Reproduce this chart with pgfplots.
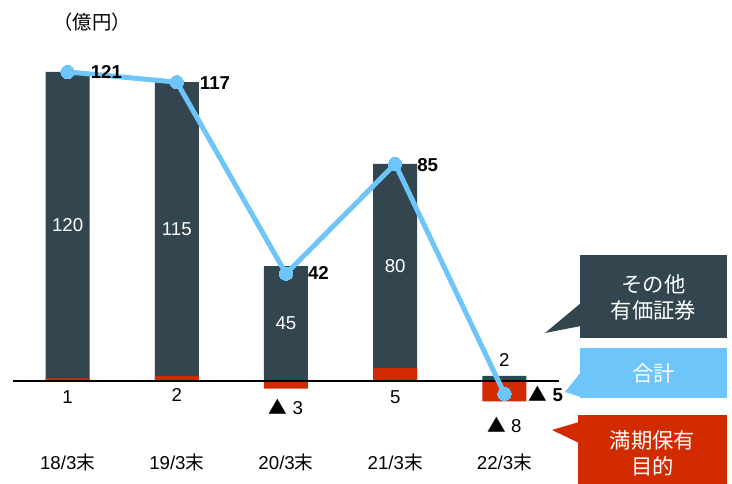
\documentclass[border=0pt]{standalone}
\usepackage{pgfplots}
\pgfplotsset{compat=1.18}
\usepackage{pgfplotstable}
\usepackage{fontspec}
\setmainfont{Liberation Sans}
\newfontfamily\cjk{Noto Sans CJK JP}
\definecolor{dark}{RGB}{51,70,80}
\definecolor{lblue}{RGB}{110,197,250}
\definecolor{red2}{RGB}{210,43,0}
\newcommand{\tri}{{\cjk ▲}}
\pgfplotstableread{
x red dark total
0 1 120 121
1 2 115 117
2 -3 45 42
3 5 80 85
4 -8 2 -5
}\data
\begin{document}
\begin{tikzpicture}[x=0.75pt,y=0.75pt]
\tikzset{lab/.style={font=\fontsize{14}{16}\selectfont, inner sep=0pt},
         blab/.style={font=\fontsize{14}{16}\selectfont\bfseries, inner sep=0pt, anchor=west},
         call/.style={font=\cjk\fontsize{16}{19}\selectfont, text=white, align=center, inner sep=0pt}}
\useasboundingbox (0,0) rectangle (732,484);
\begin{axis}[at={(9.75pt,58.1pt)}, anchor=south west, scale only axis,
  width=409.5pt, height=258.6pt, xmin=-0.5, xmax=4.5, ymin=-10, ymax=125,
  axis lines=none, clip=false, bar width=33pt]
\addplot[ybar, bar shift=0pt, fill=dark, draw=none]
  table[x=x, y expr={\thisrow{dark}+max(\thisrow{red},0)}] {\data};
\addplot[ybar, bar shift=0pt, fill=red2, draw=none] table[x=x, y=red] {\data};
\addplot[black, line width=1.2pt] coordinates {(-0.5,0) (4.5,0)};
\addplot[sharp plot, lblue, line width=3.75pt, mark=*, mark size=5pt,
  mark options={fill=lblue, draw=lblue, line width=0pt}] table[x=x, y=total] {\data};
% values inside dark bars
\node[lab, text=white] at (axis cs:0,61) {120};
\node[lab, text=white] at (axis cs:1,59.5) {115};
\node[lab, text=white] at (axis cs:2,22.5) {45};
\node[lab, text=white] at (axis cs:3,45) {80};
\node[lab] at (axis cs:4,8.2) {2};
% red values
\node[lab] at (axis cs:0,-6.3) {1};
\node[lab] at (axis cs:1,-5.5) {2};
\node[lab] at (axis cs:2,-10.2) {\tri\ 3};
\node[lab] at (axis cs:3,-6.3) {5};
\node[lab] at (axis cs:4,-17.2) {\tri\ 8};
% totals
\node[blab] at (axis cs:0.21,121) {121};
\node[blab] at (axis cs:1.21,116.7) {117};
\node[blab] at (axis cs:2.2,42.3) {42};
\node[blab] at (axis cs:3.2,84.6) {85};
\node[blab] at (axis cs:4.22,-5.1) {\tri\ 5};
% categories
\node[lab] at (axis cs:0,-31.7) {18/3{\cjk 末}};
\node[lab] at (axis cs:1,-31.7) {19/3{\cjk 末}};
\node[lab] at (axis cs:2,-31.7) {20/3{\cjk 末}};
\node[lab] at (axis cs:3,-31.7) {21/3{\cjk 末}};
\node[lab] at (axis cs:4,-31.7) {22/3{\cjk 末}};
\end{axis}
% unit
\node[lab, font=\cjk\fontsize{14.5}{16}\selectfont] at (92,462) {（億円）};
% callouts
\fill[dark] (580,146) rectangle (727,229);
\fill[dark] (581,181) -- (545,151) -- (581,158) -- cycle;
\node[call] at (653.5,186.5) {その他\\有価証券};
\fill[lblue] (580,86) rectangle (727,136);
\fill[lblue] (581,112) -- (565,92) -- (581,87) -- cycle;
\node[call] at (653.5,111) {合計};
\fill[red2] (578,0) rectangle (727,69);
\fill[red2] (579,62) -- (552,54) -- (579,41) -- cycle;
\node[call] at (652.5,30.5) {満期保有\\目的};
\end{tikzpicture}
\end{document}
